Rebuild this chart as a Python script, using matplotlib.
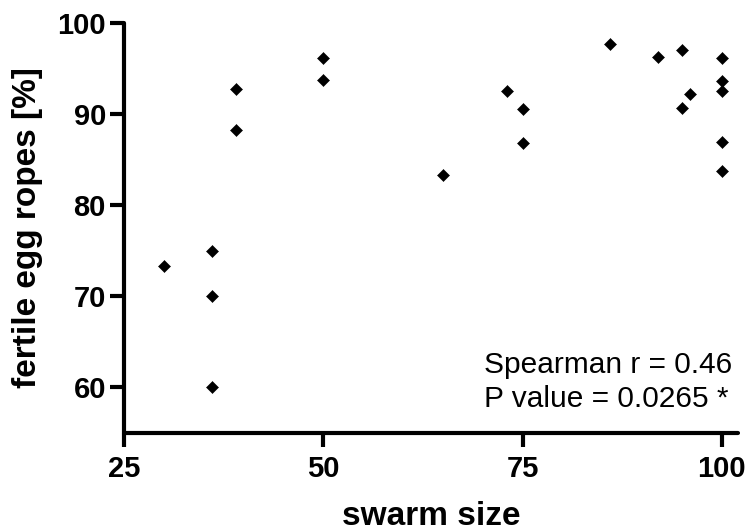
import matplotlib
matplotlib.use("Agg")
import matplotlib.pyplot as plt

plt.rcParams["font.family"] = ["Liberation Sans", "DejaVu Sans"]

# swarm size vs fertile egg ropes
swarm_size = [30, 36, 36, 36, 39, 39, 50, 50, 65, 73, 75, 75,
              86, 92, 95, 95, 96, 100, 100, 100, 100, 100]
fertile_pct = [73.3, 75.0, 70.0, 60.0, 92.8, 88.2, 96.2, 93.7, 83.3, 92.5, 90.6, 86.8,
               97.7, 96.3, 97.0, 90.7, 92.2, 96.2, 93.6, 92.5, 86.9, 83.7]

x_ticks = [25, 50, 75, 100]
y_ticks = [60, 70, 80, 90, 100]

fig = plt.figure(figsize=(7.49, 5.31), dpi=100)
ax = fig.add_axes([124 / 749, 1 - 432.7 / 531, 613.7 / 749, 409.7 / 531])

ax.plot(swarm_size, fertile_pct, linestyle="none", marker="D", markersize=6.5,
        color="black", markeredgewidth=0.4, clip_on=False)

ax.set_xlim(25, 102)
ax.set_ylim(55, 100)
ax.set_xticks(x_ticks)
ax.set_yticks(y_ticks)

for side in ["top", "right"]:
    ax.spines[side].set_visible(False)
for side in ["left", "bottom"]:
    ax.spines[side].set_linewidth(3)
    ax.spines[side].set_capstyle("round")

ax.tick_params(axis="both", direction="out", length=10, width=3, labelsize=21)
ax.tick_params(axis="x", pad=6)
ax.tick_params(axis="y", pad=3)
for lab in ax.get_xticklabels() + ax.get_yticklabels():
    lab.set_fontweight("bold")

ax.set_xlabel("swarm size", fontsize=24, fontweight="bold", labelpad=13)
ax.set_ylabel("fertile egg ropes [%]", fontsize=24, fontweight="bold", labelpad=10)

ax.text(0.587, 0.1457, "Spearman r = 0.46", transform=ax.transAxes,
        fontsize=21.5, ha="left", va="baseline")
ax.text(0.587, 0.0627, "P value = 0.0265 *", transform=ax.transAxes,
        fontsize=21.5, ha="left", va="baseline")

fig.savefig("out.png", dpi=100)
